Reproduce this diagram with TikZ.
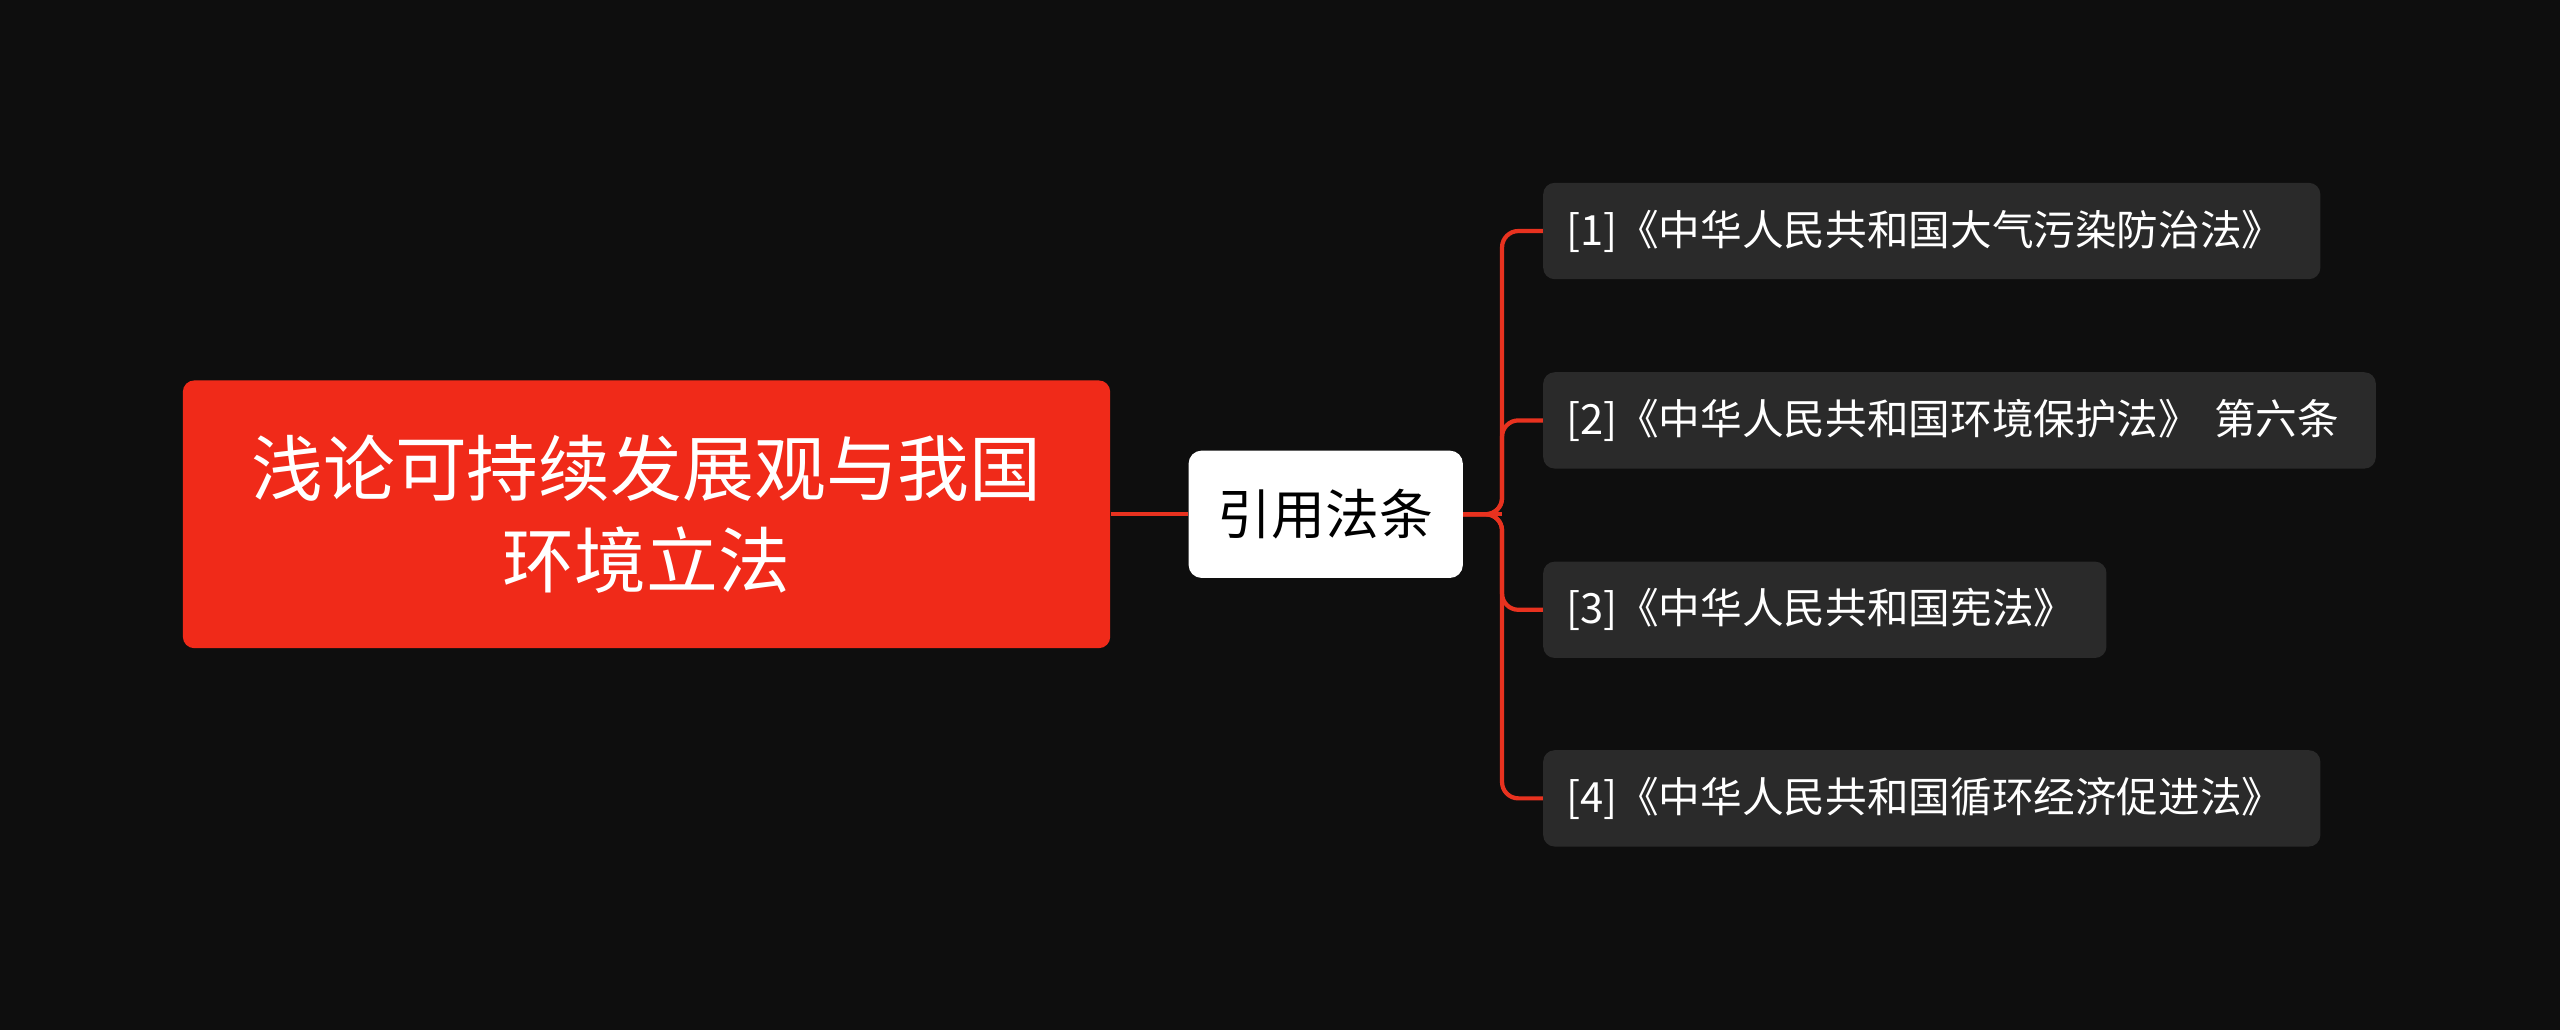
\documentclass[tikz,border=0pt]{standalone}
\usepackage{fontspec}
\setmainfont{Noto Sans CJK SC}
\definecolor{bg}{HTML}{0E0E0E}
\definecolor{rootred}{HTML}{F02A19}
\definecolor{childbg}{HTML}{2A2A2A}
\definecolor{linered}{HTML}{E8321F}
\begin{document}
\begin{tikzpicture}[x=1pt,y=-1pt,
  rootbox/.style={fill=rootred,rounded corners=7pt,draw=none,text=white,font=\fontsize{44}{56}\selectfont,align=center,minimum width=568pt,minimum height=164pt,inner sep=0pt},
  midbox/.style={fill=white,rounded corners=8pt,text=black,font=\fontsize{33}{40}\selectfont,minimum width=168pt,minimum height=78pt,inner sep=0pt},
  leaf/.style={fill=childbg,rounded corners=7pt,text=white,font=\fontsize{25.5}{30}\selectfont,minimum height=59pt,inner xsep=14pt,anchor=west,align=left},
  conn/.style={draw=linered,line width=2.6pt,rounded corners=10pt}]
\fill[bg] (0,0) rectangle (1568,631);
\useasboundingbox (0,0) rectangle (1568,631);
\node[rootbox] (root) at (396,315) {浅论可持续发展观与我国\\环境立法};
\node[midbox] (mid) at (812,315) {引用法条};
\node[leaf,text width=448pt] (c1) at (945,141.5) {[1]《中华人民共和国大气污染防治法》};
\node[leaf,text width=482pt] (c2) at (945,257.5) {[2]《中华人民共和国环境保护法》 第六条};
\node[leaf,text width=317pt] (c3) at (945,373.5) {[3]《中华人民共和国宪法》};
\node[leaf,text width=448pt] (c4) at (945,489) {[4]《中华人民共和国循环经济促进法》};
\draw[conn] (root.east) -- (mid.west);
\coordinate (j) at (920,315);
\draw[conn] (mid.east) -- (j);
\foreach \c in {c1,c2,c3,c4} \draw[conn] (mid.east) -- (j) |- (\c.west);
\end{tikzpicture}
\end{document}
